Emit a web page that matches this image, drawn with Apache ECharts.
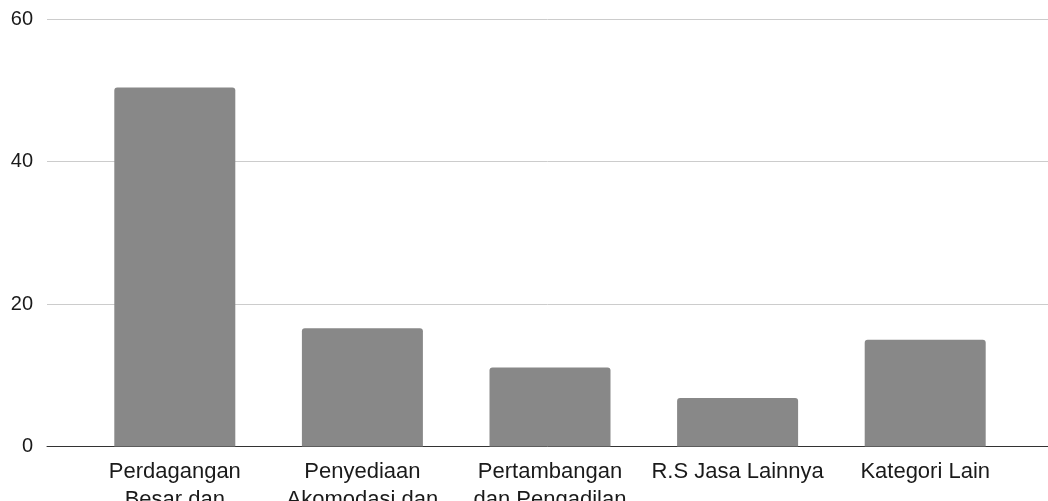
<!DOCTYPE html>
<html>
<head>
<meta charset="utf-8">
<script src="https://cdn.jsdelivr.net/npm/echarts@6/dist/echarts.min.js"></script>
<style>
  html, body { margin: 0; padding: 0; background: #fff; }
  #chart { width: 1048px; height: 501px; }
</style>
</head>
<body>
<div id="chart"></div>
<script>
// data
const categories = [
  'Perdagangan\nBesar dan',
  'Penyediaan\nAkomodasi dan',
  'Pertambangan\ndan Pengadilan',
  'R.S Jasa Lainnya',
  'Kategori Lain'
];
const values = [50.4, 16.6, 11.1, 6.8, 15.0];
const yTicks = [0, 20, 40, 60];

const chart = echarts.init(document.getElementById('chart'));
const font = 'Liberation Sans, Arial, sans-serif';

chart.setOption({
  animation: false,
  // grid 0 draws the gridlines and base line across the full width,
  // grid 1 holds the bars
  grid: [
    { left: 47, right: 0, top: 19, bottom: 54.5, outerBoundsMode: 'none' },
    { left: 81, right: 29, top: 19, bottom: 54.5, outerBoundsMode: 'none' }
  ],
  xAxis: [
    {
      gridIndex: 0,
      type: 'value',
      min: 0, max: 1,
      axisLine: { show: true, onZero: false, lineStyle: { color: '#333', width: 1 } },
      axisTick: { show: false },
      axisLabel: { show: false },
      splitLine: { show: false }
    },
    {
      gridIndex: 1,
      type: 'category',
      data: categories,
      axisLine: { show: false },
      axisTick: { show: false },
      axisLabel: {
        interval: 0,
        margin: 11,
        color: '#1a1a1a',
        fontFamily: font,
        fontSize: 22,
        lineHeight: 28
      }
    }
  ],
  yAxis: [
    {
      gridIndex: 0,
      type: 'value',
      min: yTicks[0],
      max: yTicks[yTicks.length - 1],
      interval: 20,
      axisLine: { show: false },
      axisTick: { show: false },
      axisLabel: {
        margin: 14,
        color: '#1a1a1a',
        fontFamily: font,
        fontSize: 20
      },
      splitLine: { lineStyle: { color: '#cccccc', width: 1 } }
    },
    {
      gridIndex: 1,
      type: 'value',
      min: yTicks[0],
      max: yTicks[yTicks.length - 1],
      interval: 20,
      show: false
    }
  ],
  series: [
    {
      type: 'bar',
      xAxisIndex: 1,
      yAxisIndex: 1,
      data: values,
      barWidth: 121,
      itemStyle: { color: '#888888', borderRadius: [3, 3, 0, 0] }
    }
  ]
});
</script>
</body>
</html>
